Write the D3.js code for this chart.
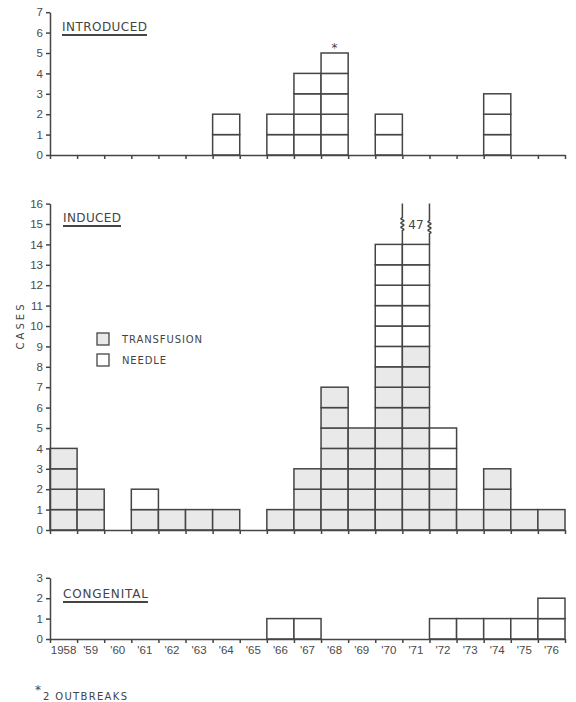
<!DOCTYPE html>
<html>
<head>
<meta charset="utf-8">
<script src="https://cdn.jsdelivr.net/npm/d3@7"></script>
<style>
  body { margin: 0; background: #fff; }
  svg { display: block; font-family: "DejaVu Sans", sans-serif; }
  .axis path, .axis line { stroke: #454545; stroke-width: 1.5; }
  .axis text { fill: #4a4a4a; font-size: 11.5px; }
  .cell { stroke: #454545; stroke-width: 1.5; }
  .title { fill: #444; font-size: 12px; }
  .small { fill: #444; font-size: 10px; }
</style>
</head>
<body>
<svg width="576" height="702"></svg>
<script>
const years = ['1958', '1959', '1960', '1961', '1962', '1963', '1964', '1965', '1966', '1967',
               '1968', '1969', '1970', '1971', '1972', '1973', '1974', '1975', '1976'];
const yearLabels = ['1958', "'59", "'60", "'61", "'62", "'63", "'64", "'65", "'66", "'67",
                    "'68", "'69", "'70", "'71", "'72", "'73", "'74", "'75", "'76"];
const introduced = [0, 0, 0, 0, 0, 0, 2, 0, 2, 4, 5, 0, 2, 0, 0, 0, 3, 0, 0];
const transfusion = [4, 2, 0, 1, 1, 1, 1, 0, 1, 3, 7, 5, 8, 9, 3, 1, 3, 1, 1];
const needle = [0, 0, 0, 1, 0, 0, 0, 0, 0, 0, 0, 0, 6, 38, 2, 0, 0, 0, 0];
const congenital = [0, 0, 0, 0, 0, 0, 0, 0, 1, 1, 0, 0, 0, 0, 1, 1, 1, 1, 2];
const outbreakYear = '1968';

var svg = d3.select('svg');
var ink = '#454545';

var x = d3.scaleBand().domain(years).range([50, 565]).padding(0);
// bin edges for the tick marks
var xEdge = d3.scaleLinear().domain([0, years.length]).range([50, 565]);

var panels = [
  { name: 'INTRODUCED', max: 7, y0: 155, titleX: 62, titleY: 31, titleW: 85,
    cells: introduced.map((v, i) => ({ year: years[i], t: 0, n: v })) },
  { name: 'INDUCED', max: 16, y0: 530, titleX: 63, titleY: 222, titleW: 58, cap: 14,
    cells: transfusion.map((v, i) => ({ year: years[i], t: v, n: needle[i] })) },
  { name: 'CONGENITAL', max: 3, y0: 639, titleX: 63, titleY: 598, titleW: 85,
    cells: congenital.map((v, i) => ({ year: years[i], t: 0, n: v })) }
];

var unit = 20.4;

panels.forEach((p, pi) => {
  p.y = d3.scaleLinear().domain([0, p.max]).range([p.y0, p.y0 - p.max * unit]);
  var g = svg.append('g');

  // unit cells
  var cells = [];
  p.cells.forEach(d => {
    var total = d.t + d.n;
    var shown = p.cap ? Math.min(total, p.cap) : total;
    for (var k = 0; k < shown; k++) cells.push({ year: d.year, k: k, shaded: k < d.t });
  });
  g.selectAll('rect.cell')
    .data(cells)
    .enter()
    .append('rect')
    .attr('class', 'cell')
    .attr('x', d => x(d.year))
    .attr('y', d => p.y(d.k + 1))
    .attr('width', x.bandwidth())
    .attr('height', d => p.y(d.k) - p.y(d.k + 1))
    .attr('fill', d => d.shaded ? '#e9e9e9' : '#fff');

  // y axis
  g.append('g')
    .attr('class', 'axis')
    .attr('transform', 'translate(50,0)')
    .call(d3.axisLeft(p.y).ticks(p.max).tickSize(4).tickSizeOuter(0).tickPadding(3));

  // x axis with ticks at bin edges
  g.append('g')
    .attr('class', 'axis')
    .attr('transform', 'translate(0,' + p.y0 + ')')
    .call(d3.axisBottom(xEdge).ticks(years.length).tickSize(4).tickSizeOuter(0).tickFormat(''));

  // panel title
  g.append('text')
    .attr('class', 'title')
    .attr('x', p.titleX)
    .attr('y', p.titleY)
    .attr('textLength', p.titleW)
    .attr('lengthAdjust', 'spacing')
    .text(p.name);
  g.append('line')
    .attr('x1', p.titleX).attr('x2', p.titleX + p.titleW)
    .attr('y1', p.titleY + 4).attr('y2', p.titleY + 4)
    .attr('stroke', ink).attr('stroke-width', 2);
});

// year labels under the bottom panel
svg.append('g')
  .attr('class', 'axis')
  .attr('transform', 'translate(0,' + panels[2].y0 + ')')
  .call(d3.axisBottom(x).tickSize(0).tickPadding(7).tickFormat((d, i) => yearLabels[i]))
  .call(g => g.select('.domain').remove())
  .selectAll('text').attr('font-size', 11);

// asterisk above the 1968 introduced bar
var pTop = panels[0];
svg.append('text')
  .attr('class', 'title')
  .attr('x', x(outbreakYear) + x.bandwidth() / 2)
  .attr('y', pTop.y(introduced[years.indexOf(outbreakYear)]) - 1)
  .attr('text-anchor', 'middle')
  .attr('font-size', 15)
  .text('*');

// broken 1971 column
var pInd = panels[1];
var bi = years.indexOf('1971');
var colX = [x(years[bi]), x(years[bi]) + x.bandwidth()];
var yTop = pInd.y(16), yBox = pInd.y(pInd.cap);
colX.forEach((cx, j) => {
  var a = yTop + 14 + j * 3, b = a + 13;
  var zig = 'M' + cx + ',' + yTop + 'V' + a;
  for (var s = 0; s < 3; s++) {
    zig += 'Q' + (cx - 3) + ',' + (a + s * 4.3 + 1.1) + ' ' + cx + ',' + (a + s * 4.3 + 2.15);
    zig += 'Q' + (cx + 3) + ',' + (a + s * 4.3 + 3.2) + ' ' + cx + ',' + (a + (s + 1) * 4.3);
  }
  zig += 'V' + yBox;
  svg.append('path').attr('d', zig).attr('fill', 'none').attr('stroke', ink).attr('stroke-width', 1.5);
});
svg.append('text')
  .attr('class', 'title')
  .attr('x', (colX[0] + colX[1]) / 2)
  .attr('y', yTop + 25)
  .attr('text-anchor', 'middle')
  .attr('font-size', 12)
  .text(transfusion[bi] + needle[bi]);

// legend
var legend = svg.append('g').attr('transform', 'translate(97,333)');
[['TRANSFUSION', '#e9e9e9', 80], ['NEEDLE', '#fff', 44]].forEach((l, i) => {
  legend.append('rect')
    .attr('x', 0).attr('y', i * 21)
    .attr('width', 12).attr('height', 12)
    .attr('fill', l[1]).attr('stroke', ink).attr('stroke-width', 1.3);
  legend.append('text')
    .attr('class', 'small')
    .attr('x', 25).attr('y', i * 21 + 10)
    .attr('textLength', l[2]).attr('lengthAdjust', 'spacing')
    .text(l[0]);
});

// y axis caption
svg.append('text')
  .attr('class', 'small')
  .attr('transform', 'translate(24,327) rotate(-90)')
  .attr('text-anchor', 'middle')
  .attr('font-size', 11)
  .attr('textLength', 45)
  .attr('lengthAdjust', 'spacing')
  .text('CASES');

// footnote
svg.append('text').attr('class', 'title').attr('x', 35).attr('y', 694).attr('font-size', 14).text('*');
svg.append('text')
  .attr('class', 'small')
  .attr('x', 43).attr('y', 700)
  .attr('textLength', 84).attr('lengthAdjust', 'spacing')
  .text('2 OUTBREAKS');
</script>
</body>
</html>
